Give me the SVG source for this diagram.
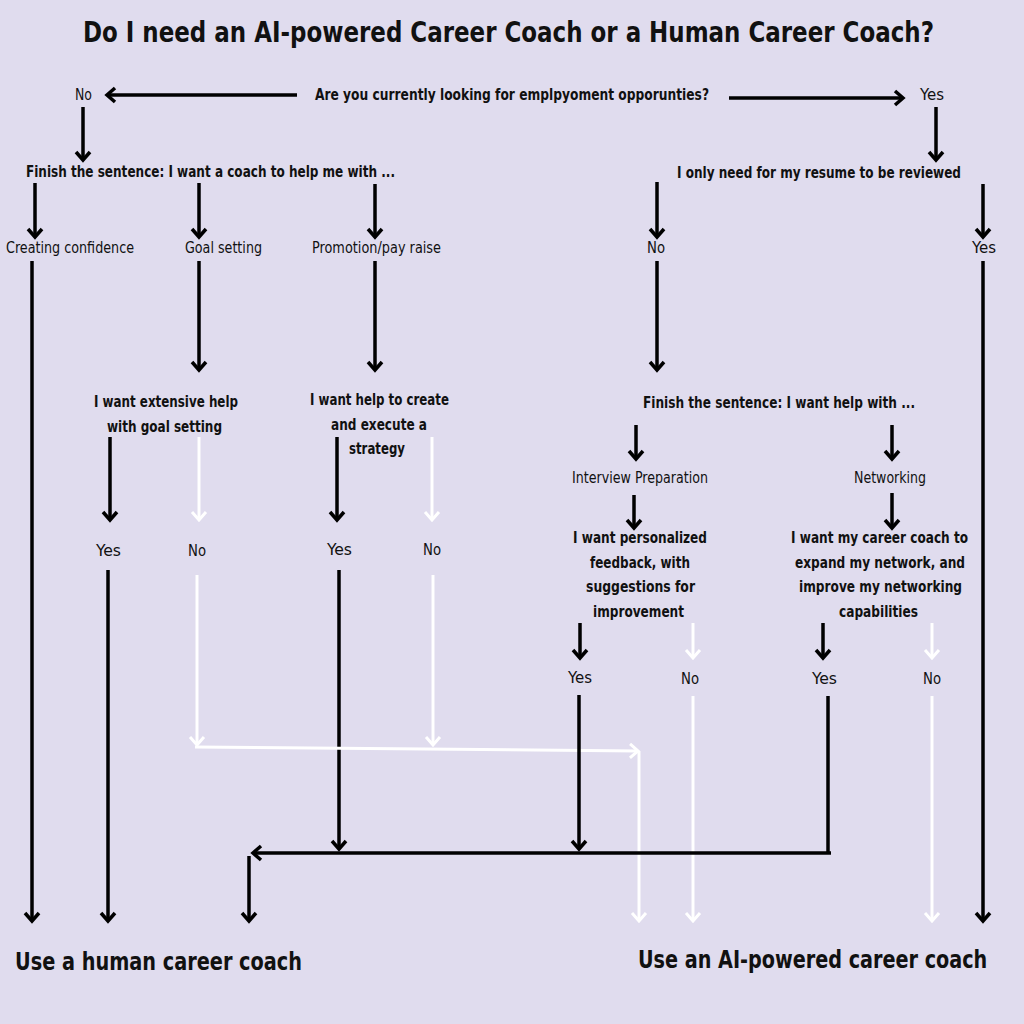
<svg xmlns="http://www.w3.org/2000/svg" width="1024" height="1024" viewBox="0 0 1024 1024">
<defs>
<style>
.t{font-family:"Liberation Sans Narrow","DejaVu Sans Condensed","Liberation Sans",sans-serif;fill:#111;}
.b{font-weight:bold;}
.r{font-weight:normal;}
.title{font-size:28px;font-weight:bold;}
.q{font-size:15px;}
.big{font-size:24px;font-weight:bold;}
.lk{stroke:#000;stroke-width:3.5;fill:none;}
.lw{stroke:#fff;stroke-width:3;fill:none;}
</style>
<marker id="ab" viewBox="-10 -10 20 20" refX="0" refY="0" markerWidth="20" markerHeight="20" markerUnits="userSpaceOnUse" orient="auto">
<path d="M-8,-7 L0,0 L-8,7" fill="none" stroke="#000" stroke-width="3.5"/>
</marker>
<marker id="aw" viewBox="-10 -10 20 20" refX="0" refY="0" markerWidth="20" markerHeight="20" markerUnits="userSpaceOnUse" orient="auto">
<path d="M-8,-7 L0,0 L-8,7" fill="none" stroke="#fff" stroke-width="3"/>
</marker>
</defs>
<rect width="1024" height="1024" fill="#e0dcee"/>

<g id="title"><text class="t title" x="83" y="42" textLength="851" lengthAdjust="spacingAndGlyphs">Do I need an AI-powered Career Coach or a Human Career Coach?</text></g>

<g id="q1"><text class="t b q" x="315" y="100" textLength="394" lengthAdjust="spacingAndGlyphs">Are you currently looking for emplpyoment opporunties?</text></g>
<g id="q1-no"><text class="t r q" x="75" y="100" textLength="17" lengthAdjust="spacingAndGlyphs">No</text></g>
<g id="q1-yes"><text class="t r q" x="920" y="100" textLength="24" lengthAdjust="spacingAndGlyphs">Yes</text></g>

<g id="q2"><text class="t b q" x="26" y="177" textLength="369" lengthAdjust="spacingAndGlyphs">Finish the sentence: I want a coach to help me with ...</text></g>
<g id="q3"><text class="t b q" x="677" y="178" textLength="284" lengthAdjust="spacingAndGlyphs">I only need for my resume to be reviewed</text></g>

<g id="opt-confidence"><text class="t r q" x="6" y="253" textLength="128" lengthAdjust="spacingAndGlyphs">Creating confidence</text></g>
<g id="opt-goal"><text class="t r q" x="185" y="253" textLength="77" lengthAdjust="spacingAndGlyphs">Goal setting</text></g>
<g id="opt-promo"><text class="t r q" x="312" y="253" textLength="129" lengthAdjust="spacingAndGlyphs">Promotion/pay raise</text></g>
<g id="q3-no"><text class="t r q" x="647" y="253" textLength="18" lengthAdjust="spacingAndGlyphs">No</text></g>
<g id="q3-yes"><text class="t r q" x="972" y="253" textLength="24" lengthAdjust="spacingAndGlyphs">Yes</text></g>

<g id="q-goal">
<text class="t b q" x="94" y="407" textLength="144" lengthAdjust="spacingAndGlyphs">I want extensive help</text>
<text class="t b q" x="107" y="432" textLength="115" lengthAdjust="spacingAndGlyphs">with goal setting</text>
</g>
<g id="q-strategy">
<text class="t b q" x="310" y="405" textLength="139" lengthAdjust="spacingAndGlyphs">I want help to create</text>
<text class="t b q" x="331" y="430" textLength="96" lengthAdjust="spacingAndGlyphs">and execute a</text>
<text class="t b q" x="349" y="454" textLength="56" lengthAdjust="spacingAndGlyphs">strategy</text>
</g>
<g id="q4"><text class="t b q" x="643" y="408" textLength="272" lengthAdjust="spacingAndGlyphs">Finish the sentence: I want help with  ...</text></g>
<g id="opt-interview"><text class="t r q" x="572" y="483" textLength="136" lengthAdjust="spacingAndGlyphs">Interview Preparation</text></g>
<g id="opt-network"><text class="t r q" x="854" y="483" textLength="72" lengthAdjust="spacingAndGlyphs">Networking</text></g>
<g id="q-feedback">
<text class="t b q" x="573" y="543" textLength="134" lengthAdjust="spacingAndGlyphs">I want personalized</text>
<text class="t b q" x="590" y="568" textLength="100" lengthAdjust="spacingAndGlyphs">feedback, with</text>
<text class="t b q" x="586" y="592" textLength="109" lengthAdjust="spacingAndGlyphs">suggestions for</text>
<text class="t b q" x="593" y="617" textLength="91" lengthAdjust="spacingAndGlyphs">improvement</text>
</g>
<g id="q-expand">
<text class="t b q" x="791" y="543" textLength="177" lengthAdjust="spacingAndGlyphs">I want my career coach to</text>
<text class="t b q" x="795" y="568" textLength="170" lengthAdjust="spacingAndGlyphs">expand my network, and</text>
<text class="t b q" x="799" y="592" textLength="163" lengthAdjust="spacingAndGlyphs">improve my networking</text>
<text class="t b q" x="839" y="617" textLength="79" lengthAdjust="spacingAndGlyphs">capabilities</text>
</g>

<g id="goal-yes"><text class="t r q" x="96" y="556" textLength="25" lengthAdjust="spacingAndGlyphs">Yes</text></g>
<g id="goal-no"><text class="t r q" x="188" y="556" textLength="18" lengthAdjust="spacingAndGlyphs">No</text></g>
<g id="strat-yes"><text class="t r q" x="327" y="555" textLength="25" lengthAdjust="spacingAndGlyphs">Yes</text></g>
<g id="strat-no"><text class="t r q" x="423" y="555" textLength="18" lengthAdjust="spacingAndGlyphs">No</text></g>
<g id="fb-yes"><text class="t r q" x="568" y="683" textLength="24" lengthAdjust="spacingAndGlyphs">Yes</text></g>
<g id="fb-no"><text class="t r q" x="681" y="684" textLength="18" lengthAdjust="spacingAndGlyphs">No</text></g>
<g id="nw-yes"><text class="t r q" x="812" y="684" textLength="25" lengthAdjust="spacingAndGlyphs">Yes</text></g>
<g id="nw-no"><text class="t r q" x="923" y="684" textLength="18" lengthAdjust="spacingAndGlyphs">No</text></g>

<g id="out-human"><text class="t big" x="15" y="970" textLength="287" lengthAdjust="spacingAndGlyphs">Use a human career coach</text></g>
<g id="out-ai"><text class="t big" transform="translate(638,968) scale(0.89,1)" x="0" y="0">Use an AI-powered career coach</text></g>

<g id="connectors">
<line class="lk" x1="297" y1="95" x2="107" y2="95" marker-end="url(#ab)"/>
<line class="lk" x1="729" y1="98" x2="903" y2="98" marker-end="url(#ab)"/>
<line class="lk" x1="83" y1="107" x2="83" y2="160" marker-end="url(#ab)"/>
<line class="lk" x1="936" y1="107" x2="936" y2="160" marker-end="url(#ab)"/>
<line class="lk" x1="35" y1="183" x2="35" y2="237" marker-end="url(#ab)"/>
<line class="lk" x1="199" y1="183" x2="199" y2="237" marker-end="url(#ab)"/>
<line class="lk" x1="375" y1="184" x2="375" y2="237" marker-end="url(#ab)"/>
<line class="lk" x1="657" y1="182" x2="657" y2="237" marker-end="url(#ab)"/>
<line class="lk" x1="983" y1="184" x2="983" y2="237" marker-end="url(#ab)"/>

<line class="lk" x1="32" y1="261" x2="32" y2="921" marker-end="url(#ab)"/>
<line class="lk" x1="199" y1="261" x2="199" y2="370" marker-end="url(#ab)"/>
<line class="lk" x1="375" y1="261" x2="375" y2="370" marker-end="url(#ab)"/>
<line class="lk" x1="657" y1="261" x2="657" y2="370" marker-end="url(#ab)"/>
<line class="lk" x1="983" y1="261" x2="983" y2="921" marker-end="url(#ab)"/>

<line class="lk" x1="110" y1="437" x2="110" y2="520" marker-end="url(#ab)"/>
<line class="lw" x1="199" y1="437" x2="199" y2="520" marker-end="url(#aw)"/>
<line class="lk" x1="337" y1="437" x2="337" y2="520" marker-end="url(#ab)"/>
<line class="lw" x1="432" y1="437" x2="432" y2="520" marker-end="url(#aw)"/>

<line class="lk" x1="636" y1="425" x2="636" y2="459" marker-end="url(#ab)"/>
<line class="lk" x1="892" y1="425" x2="892" y2="459" marker-end="url(#ab)"/>
<line class="lk" x1="634" y1="495" x2="634" y2="528" marker-end="url(#ab)"/>
<line class="lk" x1="892" y1="493" x2="892" y2="528" marker-end="url(#ab)"/>

<line class="lk" x1="580" y1="623" x2="580" y2="658" marker-end="url(#ab)"/>
<line class="lw" x1="693" y1="623" x2="693" y2="658" marker-end="url(#aw)"/>
<line class="lk" x1="823" y1="623" x2="823" y2="658" marker-end="url(#ab)"/>
<line class="lw" x1="932" y1="623" x2="932" y2="658" marker-end="url(#aw)"/>

<line class="lk" x1="108" y1="570" x2="108" y2="921" marker-end="url(#ab)"/>
<line class="lw" x1="197" y1="575" x2="197" y2="745" marker-end="url(#aw)"/>
<line class="lk" x1="339" y1="570" x2="339" y2="849" marker-end="url(#ab)"/>
<line class="lw" x1="433" y1="575" x2="433" y2="745" marker-end="url(#aw)"/>
<line class="lw" x1="195" y1="747" x2="638" y2="751" marker-end="url(#aw)"/>
<line class="lw" x1="639" y1="751" x2="639" y2="921" marker-end="url(#aw)"/>

<line class="lk" x1="579" y1="695" x2="579" y2="849" marker-end="url(#ab)"/>
<line class="lw" x1="693" y1="696" x2="693" y2="921" marker-end="url(#aw)"/>
<line class="lk" x1="828" y1="696" x2="828" y2="853"/>
<line class="lw" x1="932" y1="696" x2="932" y2="921" marker-end="url(#aw)"/>

<line class="lk" x1="831" y1="853" x2="253" y2="853" marker-end="url(#ab)"/>
<line class="lk" x1="249" y1="856" x2="249" y2="921" marker-end="url(#ab)"/>
</g>
</svg>
